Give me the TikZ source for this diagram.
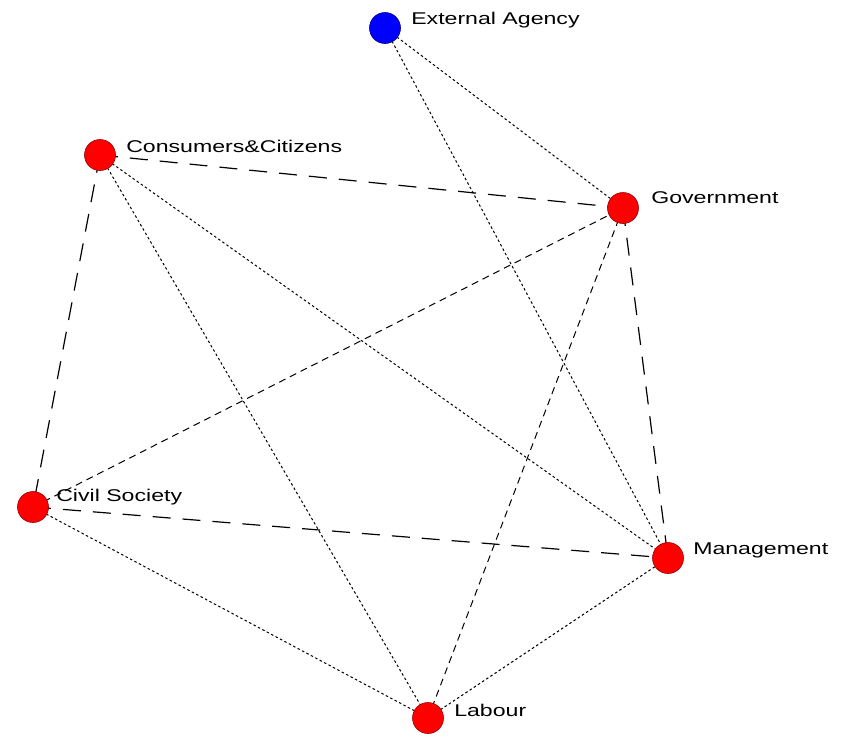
\documentclass[tikz,border=0pt]{standalone}
\usepackage{fontspec}
\setmainfont{Liberation Sans}
\begin{document}
\begin{tikzpicture}[x=1pt,y=-1pt,
  actor/.style={circle,draw=red!60!black,fill=red,minimum size=31pt,inner sep=0pt,line width=0.6pt},
  ext/.style={actor,draw=blue!50!black,fill=blue},
  lbl/.style={anchor=west,inner sep=0pt,font=\fontsize{17}{19}\selectfont,xscale=1.36},
  longdash/.style={line width=1.2pt,dash pattern=on 18pt off 12pt},
  meddash/.style={line width=1pt,dash pattern=on 7pt off 5pt},
  dotline/.style={line width=1pt,dash pattern=on 2.5pt off 2.5pt}]
\useasboundingbox (0,0) rectangle (841,739);
\coordinate (pEA) at (385,28);
\coordinate (pCC) at (100,155);
\coordinate (pGV) at (623,208);
\coordinate (pCS) at (33,507);
\coordinate (pMG) at (668,558);
\coordinate (pLB) at (428,718);
% edges
\draw[longdash] (pCC) -- (pGV);
\draw[longdash] (pCC) -- (pCS);
\draw[longdash] (pGV) -- (pMG);
\draw[longdash] (pCS) -- (pMG);
\draw[meddash] (pCS) -- (pGV);
\draw[meddash] (pGV) -- (pLB);
\draw[dotline] (pEA) -- (pGV);
\draw[dotline] (pEA) -- (pMG);
\draw[dotline] (pCC) -- (pMG);
\draw[dotline] (pCC) -- (pLB);
\draw[dotline] (pCS) -- (pLB);
\draw[dotline] (pLB) -- (pMG);
% nodes
\node[ext] (EA) at (pEA) {};
\node[actor] (CC) at (pCC) {};
\node[actor] (GV) at (pGV) {};
\node[actor] (CS) at (pCS) {};
\node[actor] (MG) at (pMG) {};
\node[actor] (LB) at (pLB) {};
% labels
\node[lbl] (tEA) at (411,20) {External Agency};
\node[lbl] (tCC) at (126,146) {Consumers\&Citizens};
\node[lbl] (tGV) at (651,198) {Government};
\node[lbl] (tCS) at (56,497) {Civil Society};
\node[lbl] (tMG) at (693,550) {Management};
\node[lbl] (tLB) at (454,710) {Labour};
\end{tikzpicture}
\end{document}
